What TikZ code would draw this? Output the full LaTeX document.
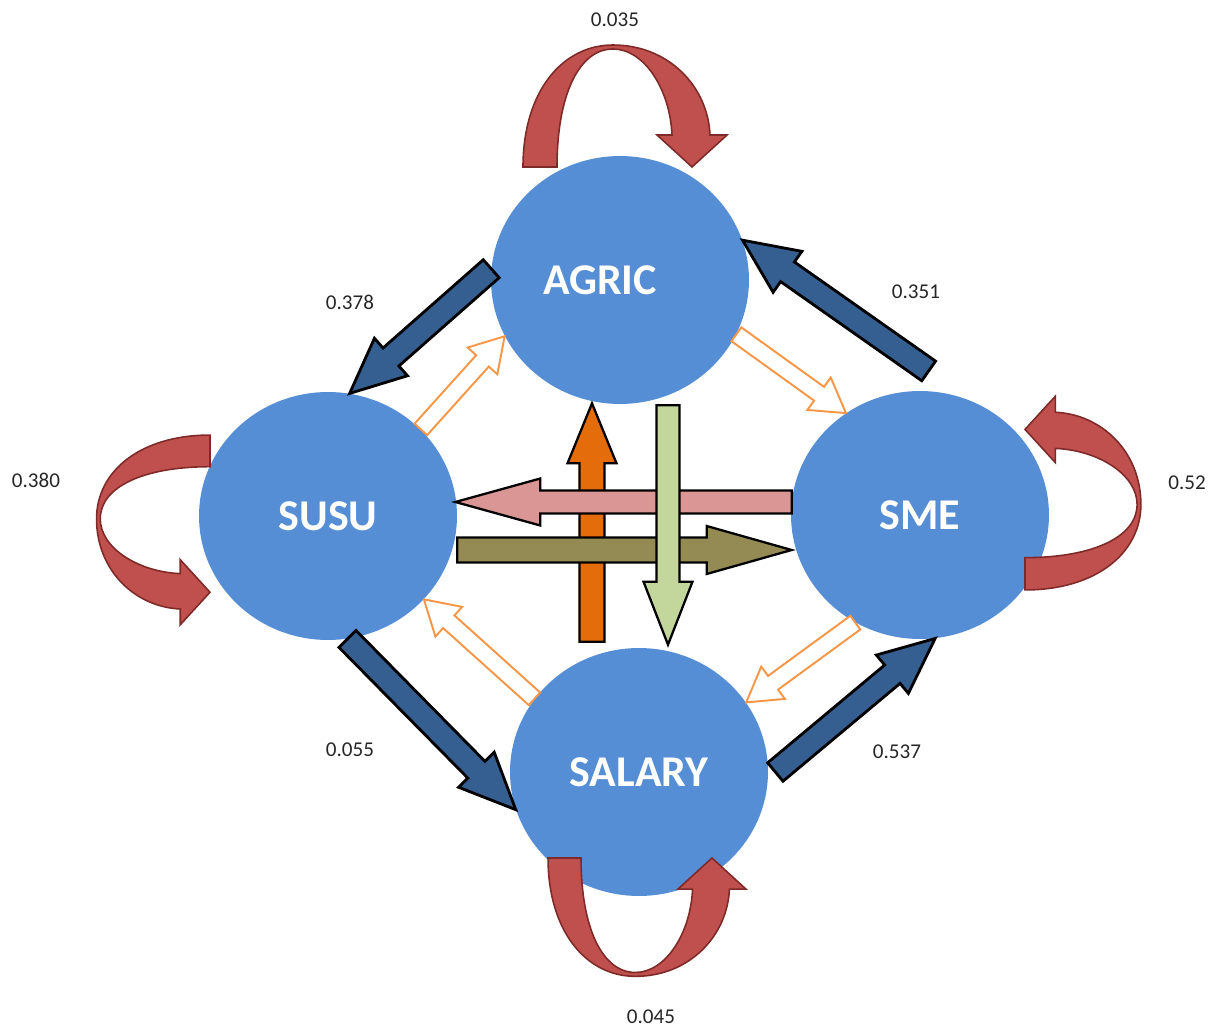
\documentclass[tikz,border=0pt]{standalone}
\usepackage{fontspec}
\setmainfont{Carlito}
\usetikzlibrary{shapes.geometric,calc}

\definecolor{circblue}{HTML}{558ED5}
\definecolor{arrblue}{HTML}{365F91}
\definecolor{loopred}{HTML}{C0504D}
\definecolor{loopedge}{HTML}{7F2A28}
\definecolor{hollow}{HTML}{F79646}
\definecolor{uporange}{HTML}{E46C0A}
\definecolor{leftpink}{HTML}{D99694}
\definecolor{rightolive}{HTML}{948A54}
\definecolor{downgreen}{HTML}{C3D69B}
\definecolor{numgray}{HTML}{262626}

\tikzset{
  state/.style={ellipse, fill=circblue, minimum width=5.16cm, minimum height=4.96cm,
    inner sep=0pt, text=white, font=\fontsize{25}{30}\selectfont\bfseries},
  prob/.style={text=numgray, font=\fontsize{12}{14}\selectfont, inner sep=0pt},
  flow/.style={fill=arrblue, draw=black, line width=1.6pt},
  swap/.style={fill=white, draw=hollow, line width=1.1pt},
  cross/.style={draw=black, line width=1.3pt},
  stay/.style={fill=loopred, draw=loopedge, line width=0.9pt}
}

% block arrow: [style]{from}{to}{shaft half width}{head half width}{head length}, widths in px
\newcommand\blockarrow[6][]{%
  \path[#1] let \p1=(#2), \p2=(#3),
    \n1={atan2(\y2-\y1,\x2-\x1)}, \n2={veclen(\x2-\x1,\y2-\y1)-#6*0.569pt},
    \n3={#4*0.569pt}, \n4={#5*0.569pt}, \p3=($(\p1)+(\n1:\n2)$) in
    ($(\p1)+({\n1+90}:\n3)$) -- ($(\p3)+({\n1+90}:\n3)$) -- ($(\p3)+({\n1+90}:\n4)$)
    -- (\p2) -- ($(\p3)+({\n1-90}:\n4)$) -- ($(\p3)+({\n1-90}:\n3)$)
    -- ($(\p1)+({\n1-90}:\n3)$) -- cycle;}

% curved self arrow, tail left, head right pointing down
\newcommand\loopband{%
  \path[stay] (-101,0) .. controls (-101,75) and (-62,122) .. (-11,122)
    .. controls (45,122) and (84,80) .. (86,32) -- (103,32) -- (68,0) -- (33,32)
    -- (48,32) .. controls (46,78) and (20,118) .. (-11,118)
    .. controls (-45,118) and (-67,72) .. (-67,0) -- cycle;}

\begin{document}
\begin{tikzpicture}[x=0.02cm, y=-0.02cm]
\useasboundingbox (0,0) rectangle (1218,1027);

\node[state] (agric) at (620,280) {\hspace*{-0.8cm}\raisebox{-0.24cm}{AGRIC}};
\node[state] (susu) at (328,516) {\raisebox{-0.2cm}{SUSU}};
\node[state] (sme) at (920,515) {SME};
\node[state] (salary) at (639,772) {SALARY};

\begin{scope}[shift={($(agric)+(4,-113)$)}, yscale=-1]
  \loopband
\end{scope}
\begin{scope}[shift={($(susu)+(-118,13)$)}, rotate=-90, scale=0.93]
  \loopband
\end{scope}
\begin{scope}[shift={($(sme)+(105,-21)$)}, rotate=90, scale=0.95]
  \loopband
\end{scope}
\begin{scope}[shift={($(salary)+(7,86)$)}, scale=0.97]
  \loopband
\end{scope}

\blockarrow[flow]{agric.175}{susu.80}{12}{25}{55}
\blockarrow[flow]{$(sme.86)+(0,-20)$}{agric.18}{12}{25}{55}
\blockarrow[flow]{susu.279}{salary.197}{12}{25}{55}
\blockarrow[flow]{$(salary.0)+(7,0)$}{sme.277}{12}{25}{55}

\blockarrow[swap]{susu.43}{agric.206}{8.5}{20}{33}
\blockarrow[swap]{agric.335}{sme.126}{8.5}{20}{33}
\blockarrow[swap]{sme.239}{salary.33}{8.5}{20}{33}
\blockarrow[swap]{salary.145}{susu.319}{8.5}{20}{33}

\blockarrow[cross, fill=uporange]{$(salary.north)+(-47,-6)$}{$(agric.south)+(-28,-1)$}{12.5}{24.5}{60}
\blockarrow[cross, fill=leftpink]{$(sme.west)+(1,-13)$}{$(susu.east)+(-2,-14)$}{11.5}{23.5}{85}
\blockarrow[cross, fill=rightolive]{$(susu.east)+(0,34)$}{$(sme.west)+(1,35)$}{12.5}{24}{85}
\blockarrow[cross, fill=downgreen]{$(agric.south)+(48,1)$}{$(salary.north)+(29,-3)$}{11.5}{24.5}{63}

\node[prob] (p1) at (615,20) {0.035};
\node[prob] (p2) at (350,302) {0.378};
\node[prob] (p3) at (916,292) {0.351};
\node[prob] (p4) at (36,480) {0.380};
\node[prob, anchor=west] (p5) at (1168,483) {0.52};
\node[prob] (p6) at (350,750) {0.055};
\node[prob] (p7) at (897,752) {0.537};
\node[prob] (p8) at (651,1017) {0.045};
\end{tikzpicture}
\end{document}
